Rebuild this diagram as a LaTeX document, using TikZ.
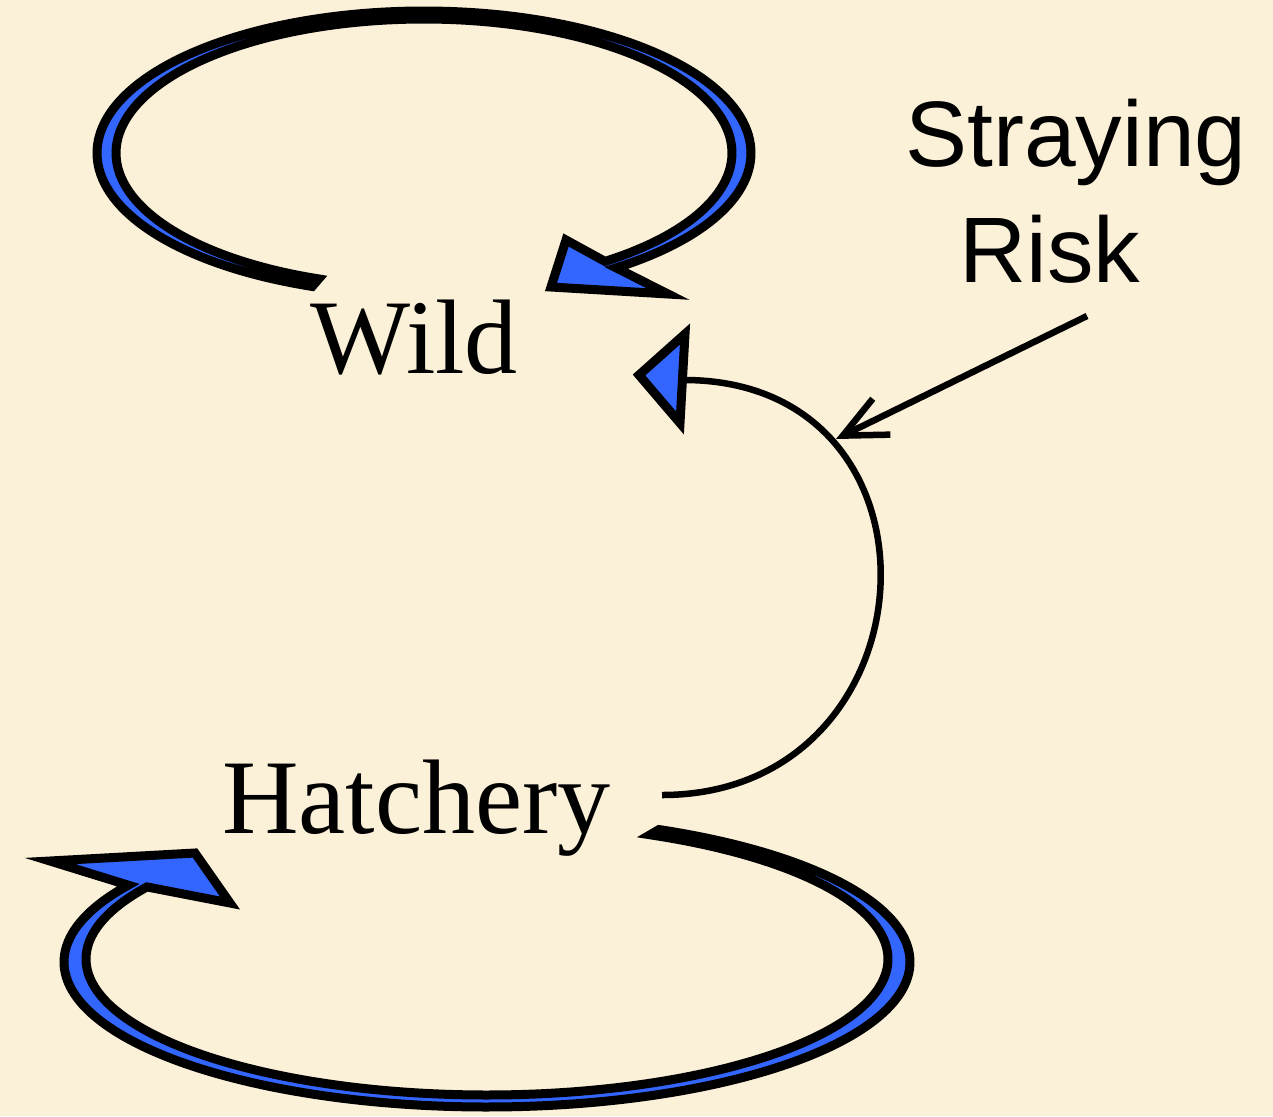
\documentclass[tikz,border=0pt]{standalone}
\usepackage{fontspec}
\setmainfont{Liberation Serif}
\newfontfamily\arialfont{Liberation Sans}
\usetikzlibrary{arrows.meta}
\definecolor{parchment}{RGB}{251,241,217}
\definecolor{loopblue}{RGB}{51,102,255}
\begin{document}
\begin{tikzpicture}[x=1pt,y=-1pt,
  loopband/.style={fill=loopblue,draw=black,line width=9pt,line join=miter},
  headtri/.style={fill=loopblue,draw=black,line width=9pt,line join=miter},
  stocklabel/.style={inner sep=0pt,anchor=base west,font=\fontsize{106}{120}\selectfont},
  risklabel/.style={inner sep=0pt,align=center,font=\arialfont\fontsize{93}{116}\selectfont},
  influence/.style={line width=6.5pt,-{Straight Barb[length=43pt,width=40pt]}}]
\fill[parchment] (0,0) rectangle (1273,1116);
\useasboundingbox (0,0) rectangle (1273,1116);

% labels
\node[stocklabel] (wild) at (310,373) {Wild};
\node[stocklabel] (hatchery) at (222,833) {Hatchery};
\node[risklabel] (risk) at (1076,191) {Straying\\Risk\hspace*{52pt}};

% reinforcing loop around Wild
\path[loopband]
  plot[domain=110:414,samples=160] ({424+327*cos(\x)},{153+142*sin(\x)})
  -- (668,294) -- (551,287) -- (566,240)
  -- plot[domain=414:110,samples=160] ({424+308*cos(\x)},{153+134*sin(\x)})
  -- cycle;

% reinforcing loop around Hatchery
\path[loopband]
  plot[domain=-66:212,samples=200] ({487+423*cos(\x)},{962+145*sin(\x)})
  -- (50,861) -- (195,853) -- (230,903)
  -- plot[domain=212:-66,samples=200] ({487+401*cos(\x)},{959+136*sin(\x)})
  -- cycle;

% flow from Hatchery to Wild
\coordinate (hout) at (662,795);
\coordinate (win) at (684,380);
\draw[line width=6.5pt] (hout) .. controls (938,795) and (961,380) .. (win);
\path[headtri] (685,334) -- (639,375) -- (680,423) -- cycle;

% straying risk acting on the flow
\coordinate (riskfoot) at (1087,316);
\coordinate (strayhit) at (836,439);
\draw[influence] (riskfoot) -- (strayhit);
\end{tikzpicture}
\end{document}
